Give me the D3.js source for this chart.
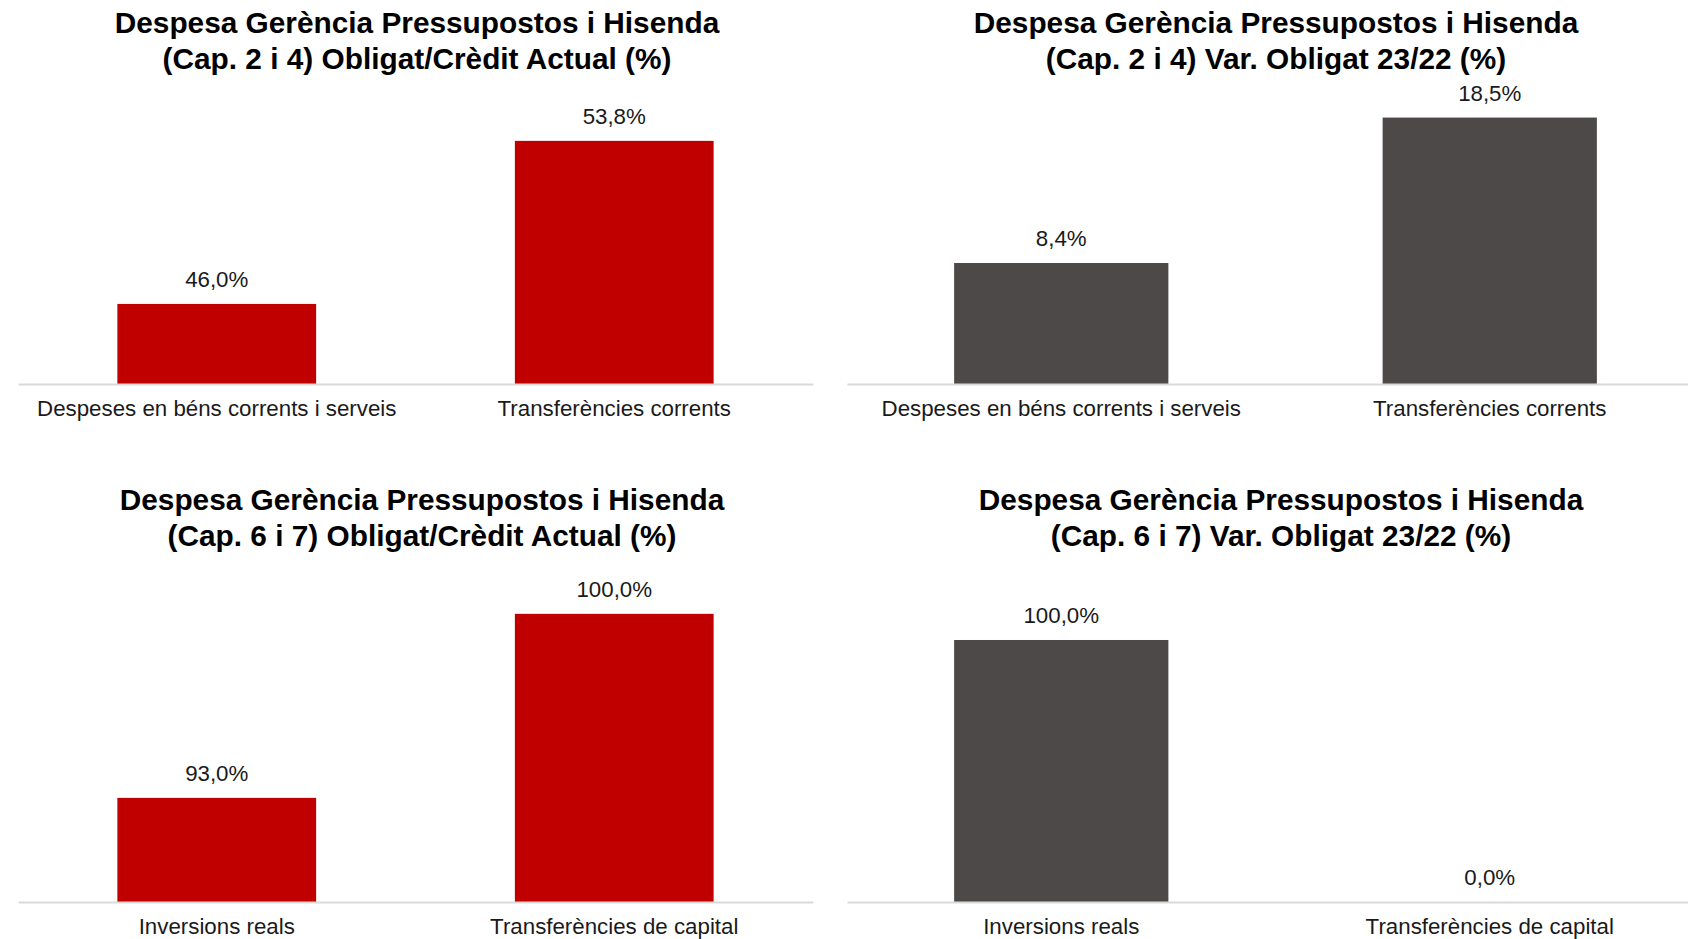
<!DOCTYPE html>
<html>
<head>
<meta charset="utf-8">
<script src="https://cdn.jsdelivr.net/npm/d3@7"></script>
<style>
  body { margin: 0; background: #fff; }
  text { font-family: "Liberation Sans", Arial, sans-serif; }
</style>
</head>
<body>
<svg id="chart" width="1688" height="939"></svg>
<script>
// data
const titles = [
  ["Despesa Gerència Pressupostos i Hisenda", "(Cap. 2 i 4) Obligat/Crèdit Actual (%)"],
  ["Despesa Gerència Pressupostos i Hisenda", "(Cap. 2 i 4) Var. Obligat 23/22 (%)"],
  ["Despesa Gerència Pressupostos i Hisenda", "(Cap. 6 i 7) Obligat/Crèdit Actual (%)"],
  ["Despesa Gerència Pressupostos i Hisenda", "(Cap. 6 i 7) Var. Obligat 23/22 (%)"]
];
const catsCap24 = ["Despeses en béns corrents i serveis", "Transferències corrents"];
const catsCap67 = ["Inversions reals", "Transferències de capital"];
const valsTL = [46.0, 53.8];
const valsTR = [8.4, 18.5];
const valsBL = [93.0, 100.0];
const valsBR = [100.0, 0.0];
// axis bounds (the source charts do not start all at zero)
const axisMin = [42.17, 0, 89.04, 0];
const axisMax = [56.52, 20.83, 100.45, 114.5];

const red = "#c00000", grey = "#4d4948";

const panels = [
  {cats: catsCap24, vals: valsTL, x0: 18, x1: 813, base: 384, color: red, tx: 417, ty: 33},
  {cats: catsCap24, vals: valsTR, x0: 847, x1: 1704, base: 384, color: grey, tx: 1276, ty: 33},
  {cats: catsCap67, vals: valsBL, x0: 18, x1: 813, base: 902, color: red, tx: 422, ty: 510},
  {cats: catsCap67, vals: valsBR, x0: 847, x1: 1704, base: 902, color: grey, tx: 1281, ty: 510}
];

const loc = d3.formatLocale({decimal: ",", thousands: ".", grouping: [3], currency: ["", "€"]});
const fmt = v => loc.format(".1f")(v) + "%";

const svg = d3.select("#chart");
const plotH = 300;

panels.forEach((p, i) => {
  const g = svg.append("g");
  const x = d3.scaleBand().domain(p.cats).range([p.x0, p.x1]).paddingInner(0.5).paddingOuter(0.25);
  const y = d3.scaleLinear().domain([axisMin[i], axisMax[i]]).range([p.base, p.base - plotH]);

  const t = g.append("text").attr("text-anchor", "middle").attr("font-size", 29.8).attr("font-weight", "bold").attr("fill", "#000");
  titles[i].forEach((line, j) => {
    t.append("tspan").attr("x", p.tx).attr("y", p.ty + j * 35.5).text(line);
  });

  g.selectAll("rect").data(p.vals).join("rect")
    .attr("x", (d, k) => x(p.cats[k]))
    .attr("width", x.bandwidth())
    .attr("y", d => Math.min(y(Math.max(d, axisMin[i])), p.base))
    .attr("height", d => d > axisMin[i] ? p.base - y(d) : 0)
    .attr("fill", p.color);

  g.selectAll(".val").data(p.vals).join("text").attr("class", "val")
    .attr("x", (d, k) => x(p.cats[k]) + x.bandwidth() / 2)
    .attr("y", d => Math.min(y(Math.max(d, axisMin[i])), p.base) - 17)
    .attr("text-anchor", "middle").attr("font-size", 22.3).attr("fill", "#1a1a1a")
    .text(d => fmt(d));

  const ax = g.append("g").attr("transform", `translate(0,${p.base})`)
    .call(d3.axisBottom(x).tickSize(0).tickPadding(16));
  ax.select(".domain").attr("stroke", "#d9d9d9").attr("stroke-width", 2);
  ax.selectAll(".tick text").attr("font-size", 22.3).attr("fill", "#1a1a1a")
    .attr("font-family", "Liberation Sans, Arial, sans-serif");
});
</script>
</body>
</html>
